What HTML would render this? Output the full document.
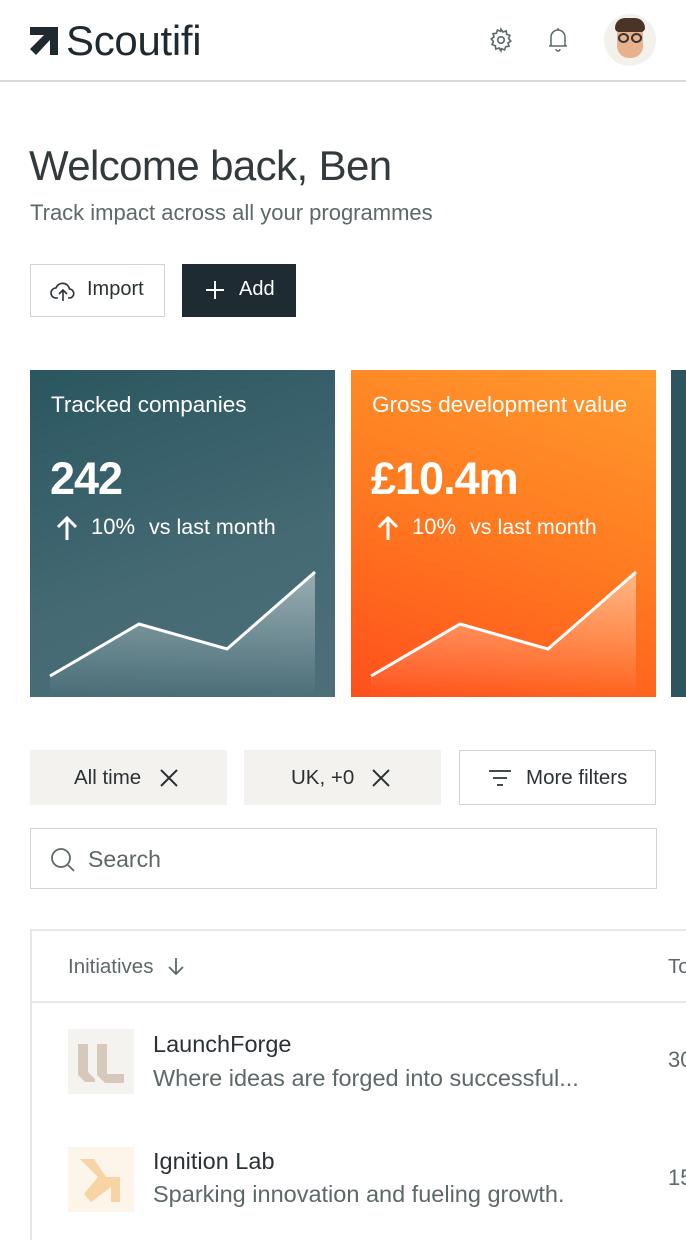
<!DOCTYPE html>
<html><head><meta charset="utf-8"><style>
*{margin:0;padding:0;box-sizing:border-box}
body{width:686px;height:1240px;overflow:hidden;background:#fff;font-family:"Liberation Sans",sans-serif;color:#2b3236;position:relative}
.a{position:absolute}
.t{white-space:nowrap;letter-spacing:0}
</style></head><body>
<!-- header -->
<svg class="a" style="left:30px;top:27px" width="30" height="28" viewBox="0 0 30 28"><path d="M0 0H28V28H20V13L6 28L0 22L14 8H0Z" fill="#1f2a30"/></svg>
<div class="a t" style="left:66px;top:17px;font-size:42px;color:#1f2a30;letter-spacing:-0.3px">Scoutifi</div>
<svg class="a" style="left:488px;top:27px" width="26" height="26" viewBox="0 0 24 24" fill="none" stroke="#5d6869" stroke-width="1.5"><circle cx="12" cy="12" r="3"/><path d="M12 2l1.8 2.6 3-1 .4 3.1 3 1-1.2 2.9 2 2.4-2.6 1.8 1 3-3.1.4-1 3-2.9-1.2L12 22l-1.8-2.6-3 1-.4-3.1-3-1 1.2-2.9-2-2.4 2.6-1.8-1-3 3.1-.4 1-3 2.9 1.2z"/></svg>
<svg class="a" style="left:546px;top:27px" width="24" height="26" viewBox="0 0 24 26" fill="none" stroke="#5d6869" stroke-width="1.5"><path d="M5 19V10a7 7 0 0 1 14 0v9M3 19h18M10 22a2 2 0 0 0 4 0M12 1v2"/></svg>
<div class="a" style="left:604px;top:14px;width:52px;height:52px;border-radius:50%;background:#f3f1ec"></div>
<div class="a" style="left:617px;top:22px;width:26px;height:36px;border-radius:12px;background:#e9b08e"></div>
<div class="a" style="left:615px;top:18px;width:30px;height:14px;border-radius:10px 10px 4px 4px;background:#4a3427"></div>
<div class="a" style="left:618px;top:33px;width:11px;height:10px;border:2px solid #333;border-radius:50%"></div>
<div class="a" style="left:631px;top:33px;width:11px;height:10px;border:2px solid #333;border-radius:50%"></div>
<div class="a" style="left:0;top:80px;width:686px;height:2px;background:#d6dbdb"></div>

<div class="a t" style="left:29px;top:142px;font-size:42px;color:#333a3d;letter-spacing:-0.6px">Welcome back, Ben</div>
<div class="a t" style="left:30px;top:200px;font-size:22px;color:#5d6869">Track impact across all your programmes</div>

<div class="a" style="left:30px;top:264px;width:135px;height:53px;border:1.5px solid #d2d4d4"></div>
<svg class="a" style="left:50px;top:279px" width="26" height="24" viewBox="0 0 26 24" fill="none" stroke="#2b3236" stroke-width="1.6"><path d="M8 19H6a5 5 0 0 1 0-10 7 7 0 0 1 13.5 1A4.5 4.5 0 0 1 19 19h-1M13 22V12M9 15l4-4 4 4"/></svg>
<div class="a t" style="left:87px;top:278px;font-size:20px;color:#2b3236">Import</div>
<div class="a" style="left:182px;top:264px;width:114px;height:53px;background:#1f2b33"></div>
<svg class="a" style="left:205px;top:280px" width="20" height="20" stroke="#fff" stroke-width="2"><path d="M10 1V19M1 10H19"/></svg>
<div class="a t" style="left:239px;top:278px;font-size:20px;color:#fff">Add</div>

<!-- cards -->
<div class="a" style="left:30px;top:370px;width:305px;height:327px;background:linear-gradient(160deg,#2a5660,#456a74 60%,#4d6f79)"></div>
<div class="a" style="left:351px;top:370px;width:305px;height:327px;background:linear-gradient(200deg,#ff9a2e,#ff7a20 50%,#ff4f1c)"></div>
<div class="a" style="left:671px;top:370px;width:15px;height:327px;background:#2c5560"></div>
<svg class="a" style="left:30px;top:370px" width="626" height="327">
<defs><linearGradient id="g" x1="0" y1="0" x2="0" y2="1"><stop offset="0" stop-color="#fff" stop-opacity=".45"/><stop offset="1" stop-color="#fff" stop-opacity="0"/></linearGradient></defs>
<path d="M20 306L109 254L197 279L285 202V327H20Z" fill="url(#g)"/>
<path d="M20 306L109 254L197 279L285 202" fill="none" stroke="#fff" stroke-width="3"/>
<path d="M341 306L430 254L518 279L606 202V327H341Z" fill="url(#g)"/>
<path d="M341 306L430 254L518 279L606 202" fill="none" stroke="#fff" stroke-width="3"/>
<path d="M37 170V148M28 157L37 148L46 157" fill="none" stroke="#fff" stroke-width="3"/>
<path d="M358 170V148M349 157L358 148L367 157" fill="none" stroke="#fff" stroke-width="3"/>
</svg>
<div class="a t" style="left:51px;top:392px;font-size:22.5px;color:#fff">Tracked companies</div>
<div class="a t" style="left:50px;top:453px;font-size:45px;color:#fff;font-weight:bold;letter-spacing:-1px">242</div>
<div class="a t" style="left:91px;top:514px;font-size:22px;color:#fff">10%</div>
<div class="a t" style="left:149px;top:515px;font-size:21.5px;color:#fff">vs last month</div>
<div class="a t" style="left:372px;top:392px;font-size:22.5px;color:#fff">Gross development value</div>
<div class="a t" style="left:371px;top:453px;font-size:45px;color:#fff;font-weight:bold;letter-spacing:-1px">£10.4m</div>
<div class="a t" style="left:412px;top:514px;font-size:22px;color:#fff">10%</div>
<div class="a t" style="left:470px;top:515px;font-size:21.5px;color:#fff">vs last month</div>

<!-- filters -->
<div class="a" style="left:30px;top:750px;width:197px;height:55px;background:#f3f2ee"></div>
<div class="a t" style="left:74px;top:766px;font-size:20.5px;color:#2b3236">All time</div>
<svg class="a" style="left:160px;top:769px" width="18" height="18" stroke="#2b3236" stroke-width="2"><path d="M1 1L17 17M17 1L1 17"/></svg>
<div class="a" style="left:244px;top:750px;width:197px;height:55px;background:#f3f2ee"></div>
<div class="a t" style="left:291px;top:766px;font-size:20.5px;color:#2b3236">UK, +0</div>
<svg class="a" style="left:372px;top:769px" width="18" height="18" stroke="#2b3236" stroke-width="2"><path d="M1 1L17 17M17 1L1 17"/></svg>
<div class="a" style="left:459px;top:750px;width:197px;height:55px;border:1.5px solid #d2d4d4"></div>
<svg class="a" style="left:487px;top:768px" width="26" height="20" stroke="#2b3236" stroke-width="1.8"><path d="M2 3H24M6 10H20M10 17H16"/></svg>
<div class="a t" style="left:526px;top:766px;font-size:20.5px;color:#2b3236">More filters</div>

<div class="a" style="left:30px;top:828px;width:627px;height:61px;border:1.5px solid #d2d4d4"></div>
<svg class="a" style="left:50px;top:847px" width="26" height="26" fill="none" stroke="#5d6869" stroke-width="1.8"><circle cx="11" cy="11" r="9"/><path d="M18 18L24 24"/></svg>
<div class="a t" style="left:88px;top:846px;font-size:23px;color:#5d6869">Search</div>

<!-- table -->
<div class="a" style="left:30px;top:929px;width:656px;height:2px;background:#e6e8e8"></div>
<div class="a" style="left:30px;top:929px;width:2px;height:311px;background:#e6e8e8"></div>
<div class="a" style="left:30px;top:1001px;width:656px;height:2px;background:#e6e8e8"></div>
<div class="a t" style="left:68px;top:955px;font-size:20.5px;color:#5d6869">Initiatives</div>
<svg class="a" style="left:166px;top:956px" width="20" height="20" fill="none" stroke="#5d6869" stroke-width="1.8"><path d="M10 2V18M3 11L10 18L17 11"/></svg>
<div class="a t" style="left:668px;top:955px;font-size:20.5px;color:#5d6869">To</div>

<div class="a" style="left:68px;top:1029px;width:66px;height:65px;background:#f5f3ef"></div>
<svg class="a" style="left:68px;top:1029px" width="66" height="65"><path d="M10 15H20V43L27 50V53H17L10 46Z M29 15H39V45H56V54H37L29 46Z" fill="#d6c8bb"/></svg>
<div class="a t" style="left:153px;top:1031px;font-size:23.5px;color:#2b3236">LaunchForge</div>
<div class="a t" style="left:153px;top:1065px;font-size:23.5px;color:#5d6869">Where ideas are forged into successful...</div>
<div class="a t" style="left:668px;top:1047px;font-size:22px;color:#5d6869">30</div>

<div class="a" style="left:68px;top:1147px;width:66px;height:65px;background:#fdf4ea"></div>
<svg class="a" style="left:68px;top:1147px" width="66" height="65"><path d="M12 12H26L38 30L52 30V55H43V40L23 55L16 47L30 30Z" fill="#f8d3a4"/></svg>
<div class="a t" style="left:153px;top:1148px;font-size:23.5px;color:#2b3236">Ignition Lab</div>
<div class="a t" style="left:153px;top:1181px;font-size:23.5px;color:#5d6869">Sparking innovation and fueling growth.</div>
<div class="a t" style="left:668px;top:1165px;font-size:22px;color:#5d6869">15</div>
</body></html>
